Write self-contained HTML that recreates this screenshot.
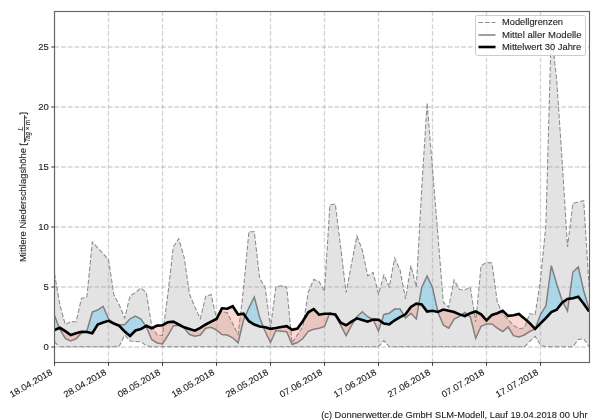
<!DOCTYPE html><html><head><meta charset="utf-8"><style>html,body{margin:0;padding:0;background:#fff;width:600px;height:420px;overflow:hidden}svg{display:block;will-change:transform}text{stroke:#222;stroke-width:0.1px}</style></head><body><svg width="600" height="420" viewBox="0 0 600 420">
<rect width="600" height="420" fill="#fff"/>
<defs><clipPath id="ax"><rect x="54.5" y="11.5" width="535.0" height="351.0"/></clipPath><clipPath id="above"><polygon points="52.50,0 54.50,330.00 59.90,327.80 65.30,331.20 70.70,335.00 76.10,333.30 81.50,331.70 86.90,332.00 92.30,333.30 97.70,324.50 103.10,322.50 108.50,320.80 113.90,323.50 119.30,325.80 124.70,331.50 130.10,336.00 135.50,330.50 140.90,329.00 146.30,325.80 151.70,328.30 157.10,325.60 162.50,325.20 167.90,322.20 173.30,321.60 178.70,324.50 184.10,327.30 189.50,329.00 194.90,330.70 200.30,327.80 205.70,324.50 211.10,321.70 216.50,319.00 221.90,308.30 227.30,308.70 232.70,306.20 238.10,314.50 243.50,313.70 248.90,321.20 254.30,324.50 259.70,326.50 265.10,327.20 270.50,328.80 275.90,328.00 281.30,327.00 286.70,326.20 292.10,329.80 297.50,328.50 302.90,321.00 308.30,312.30 313.70,309.20 319.10,314.70 324.50,313.70 329.90,313.70 335.30,314.50 340.70,322.80 346.10,325.30 351.50,321.70 356.90,318.30 362.30,320.00 367.70,321.70 373.10,319.50 378.50,319.70 383.90,323.60 389.30,324.30 394.70,320.30 400.10,317.10 405.50,314.30 410.90,306.90 416.30,303.70 421.70,304.40 427.10,311.50 432.50,310.80 437.90,312.00 443.30,309.60 448.70,310.80 454.10,312.00 459.50,314.40 464.90,316.00 470.30,313.20 475.70,311.50 481.10,314.40 486.50,320.30 491.90,314.90 497.30,313.20 502.70,310.80 508.10,315.90 513.50,315.30 518.90,314.00 524.30,318.40 529.70,323.20 535.10,328.80 540.50,323.30 545.90,318.00 551.30,312.10 556.70,309.80 562.10,302.60 567.50,299.00 572.90,298.30 578.30,296.70 583.70,303.80 589.10,311.50 591.10,0"/></clipPath><clipPath id="below"><polygon points="52.50,420 54.50,330.00 59.90,327.80 65.30,331.20 70.70,335.00 76.10,333.30 81.50,331.70 86.90,332.00 92.30,333.30 97.70,324.50 103.10,322.50 108.50,320.80 113.90,323.50 119.30,325.80 124.70,331.50 130.10,336.00 135.50,330.50 140.90,329.00 146.30,325.80 151.70,328.30 157.10,325.60 162.50,325.20 167.90,322.20 173.30,321.60 178.70,324.50 184.10,327.30 189.50,329.00 194.90,330.70 200.30,327.80 205.70,324.50 211.10,321.70 216.50,319.00 221.90,308.30 227.30,308.70 232.70,306.20 238.10,314.50 243.50,313.70 248.90,321.20 254.30,324.50 259.70,326.50 265.10,327.20 270.50,328.80 275.90,328.00 281.30,327.00 286.70,326.20 292.10,329.80 297.50,328.50 302.90,321.00 308.30,312.30 313.70,309.20 319.10,314.70 324.50,313.70 329.90,313.70 335.30,314.50 340.70,322.80 346.10,325.30 351.50,321.70 356.90,318.30 362.30,320.00 367.70,321.70 373.10,319.50 378.50,319.70 383.90,323.60 389.30,324.30 394.70,320.30 400.10,317.10 405.50,314.30 410.90,306.90 416.30,303.70 421.70,304.40 427.10,311.50 432.50,310.80 437.90,312.00 443.30,309.60 448.70,310.80 454.10,312.00 459.50,314.40 464.90,316.00 470.30,313.20 475.70,311.50 481.10,314.40 486.50,320.30 491.90,314.90 497.30,313.20 502.70,310.80 508.10,315.90 513.50,315.30 518.90,314.00 524.30,318.40 529.70,323.20 535.10,328.80 540.50,323.30 545.90,318.00 551.30,312.10 556.70,309.80 562.10,302.60 567.50,299.00 572.90,298.30 578.30,296.70 583.70,303.80 589.10,311.50 591.10,420"/></clipPath></defs>
<g clip-path="url(#ax)">
<polygon points="54.50,273.70 59.90,305.00 65.30,324.50 70.70,321.70 76.10,321.70 81.50,298.30 86.90,296.70 92.30,242.00 97.70,247.80 103.10,253.70 108.50,259.50 113.90,295.00 119.30,305.00 124.70,318.00 130.10,295.80 135.50,292.50 140.90,288.00 146.30,292.50 151.70,326.00 157.10,335.00 162.50,335.50 167.90,294.00 173.30,247.00 178.70,238.70 184.10,257.00 189.50,294.00 194.90,307.00 200.30,318.70 205.70,296.20 211.10,294.50 216.50,318.70 221.90,311.20 227.30,312.80 232.70,323.70 238.10,334.50 243.50,289.00 248.90,231.70 254.30,231.70 259.70,278.70 265.10,287.00 270.50,327.50 275.90,287.00 281.30,285.80 286.70,287.00 292.10,343.00 297.50,334.50 302.90,326.80 308.30,292.00 313.70,279.50 319.10,281.50 324.50,291.40 329.90,205.00 335.30,204.00 340.70,247.40 346.10,292.60 351.50,264.00 356.90,236.00 362.30,249.80 367.70,276.00 373.10,272.40 378.50,294.00 383.90,275.00 389.30,286.90 394.70,258.00 400.10,270.20 405.50,298.80 410.90,265.50 416.30,287.00 421.70,189.00 427.10,103.00 432.50,169.00 437.90,235.00 443.30,302.50 448.70,307.20 454.10,279.90 459.50,289.40 464.90,290.00 470.30,287.00 475.70,322.00 481.10,265.70 486.50,262.50 491.90,263.10 497.30,302.00 502.70,314.00 508.10,319.50 513.50,325.40 518.90,328.70 524.30,328.00 529.70,313.60 535.10,315.00 540.50,280.00 545.90,225.00 551.30,30.00 556.70,80.00 562.10,160.00 567.50,247.00 572.90,203.40 578.30,202.00 583.70,200.70 589.10,287.00 589.10,346.80 583.70,338.80 578.30,339.50 572.90,346.80 567.50,346.80 562.10,346.80 556.70,346.80 551.30,346.80 545.90,346.80 540.50,345.00 535.10,336.40 529.70,341.40 524.30,346.80 518.90,346.80 513.50,346.80 508.10,346.80 502.70,346.80 497.30,346.80 491.90,346.80 486.50,346.80 481.10,346.80 475.70,346.80 470.30,346.80 464.90,346.80 459.50,346.80 454.10,346.80 448.70,346.80 443.30,346.80 437.90,346.80 432.50,346.80 427.10,346.80 421.70,346.80 416.30,346.80 410.90,346.80 405.50,346.80 400.10,346.80 394.70,346.80 389.30,346.80 383.90,340.60 378.50,346.80 373.10,346.80 367.70,346.80 362.30,346.80 356.90,346.80 351.50,346.80 346.10,346.80 340.70,346.80 335.30,346.80 329.90,346.80 324.50,346.80 319.10,346.80 313.70,346.80 308.30,346.80 302.90,346.80 297.50,346.80 292.10,346.80 286.70,346.80 281.30,346.80 275.90,346.80 270.50,346.80 265.10,346.80 259.70,346.80 254.30,346.80 248.90,346.80 243.50,346.80 238.10,346.80 232.70,346.80 227.30,346.80 221.90,346.80 216.50,346.80 211.10,346.80 205.70,346.80 200.30,346.80 194.90,346.80 189.50,346.80 184.10,346.80 178.70,346.80 173.30,346.80 167.90,346.80 162.50,346.80 157.10,346.80 151.70,346.80 146.30,345.80 140.90,341.70 135.50,341.40 130.10,341.00 124.70,335.00 119.30,346.00 113.90,346.80 108.50,346.80 103.10,346.80 97.70,346.80 92.30,346.80 86.90,346.80 81.50,346.80 76.10,346.80 70.70,346.80 65.30,346.80 59.90,346.80 54.50,342.00" fill="#e3e3e3"/>
<line x1="54.50" y1="362.5" x2="54.50" y2="11.5" stroke="#a8a8a8" stroke-opacity="0.5" stroke-width="1.3" stroke-dasharray="4.6 2.07"/>
<line x1="108.50" y1="362.5" x2="108.50" y2="11.5" stroke="#a8a8a8" stroke-opacity="0.5" stroke-width="1.3" stroke-dasharray="4.6 2.07"/>
<line x1="162.50" y1="362.5" x2="162.50" y2="11.5" stroke="#a8a8a8" stroke-opacity="0.5" stroke-width="1.3" stroke-dasharray="4.6 2.07"/>
<line x1="216.50" y1="362.5" x2="216.50" y2="11.5" stroke="#a8a8a8" stroke-opacity="0.5" stroke-width="1.3" stroke-dasharray="4.6 2.07"/>
<line x1="270.50" y1="362.5" x2="270.50" y2="11.5" stroke="#a8a8a8" stroke-opacity="0.5" stroke-width="1.3" stroke-dasharray="4.6 2.07"/>
<line x1="324.50" y1="362.5" x2="324.50" y2="11.5" stroke="#a8a8a8" stroke-opacity="0.5" stroke-width="1.3" stroke-dasharray="4.6 2.07"/>
<line x1="378.50" y1="362.5" x2="378.50" y2="11.5" stroke="#a8a8a8" stroke-opacity="0.5" stroke-width="1.3" stroke-dasharray="4.6 2.07"/>
<line x1="432.50" y1="362.5" x2="432.50" y2="11.5" stroke="#a8a8a8" stroke-opacity="0.5" stroke-width="1.3" stroke-dasharray="4.6 2.07"/>
<line x1="486.50" y1="362.5" x2="486.50" y2="11.5" stroke="#a8a8a8" stroke-opacity="0.5" stroke-width="1.3" stroke-dasharray="4.6 2.07"/>
<line x1="540.50" y1="362.5" x2="540.50" y2="11.5" stroke="#a8a8a8" stroke-opacity="0.5" stroke-width="1.3" stroke-dasharray="4.6 2.07"/>
<line x1="54.5" y1="347.0" x2="589.5" y2="347.0" stroke="#a8a8a8" stroke-opacity="0.5" stroke-width="1.3" stroke-dasharray="4.6 2.07"/>
<line x1="54.5" y1="287.0" x2="589.5" y2="287.0" stroke="#a8a8a8" stroke-opacity="0.5" stroke-width="1.3" stroke-dasharray="4.6 2.07"/>
<line x1="54.5" y1="227.0" x2="589.5" y2="227.0" stroke="#a8a8a8" stroke-opacity="0.5" stroke-width="1.3" stroke-dasharray="4.6 2.07"/>
<line x1="54.5" y1="167.0" x2="589.5" y2="167.0" stroke="#a8a8a8" stroke-opacity="0.5" stroke-width="1.3" stroke-dasharray="4.6 2.07"/>
<line x1="54.5" y1="107.0" x2="589.5" y2="107.0" stroke="#a8a8a8" stroke-opacity="0.5" stroke-width="1.3" stroke-dasharray="4.6 2.07"/>
<line x1="54.5" y1="47.0" x2="589.5" y2="47.0" stroke="#a8a8a8" stroke-opacity="0.5" stroke-width="1.3" stroke-dasharray="4.6 2.07"/>
<polygon points="54.50,315.40 59.90,329.50 65.30,338.50 70.70,341.00 76.10,338.80 81.50,333.00 86.90,331.00 92.30,312.00 97.70,310.00 103.10,306.30 108.50,318.80 113.90,323.50 119.30,325.00 124.70,324.50 130.10,318.80 135.50,316.10 140.90,319.00 146.30,326.90 151.70,339.50 157.10,343.00 162.50,344.00 167.90,335.50 173.30,326.00 178.70,325.30 184.10,327.80 189.50,334.50 194.90,336.20 200.30,335.00 205.70,328.30 211.10,327.30 216.50,330.00 221.90,334.50 227.30,335.00 232.70,337.80 238.10,342.80 243.50,320.30 248.90,307.80 254.30,297.00 259.70,317.80 265.10,331.20 270.50,342.50 275.90,330.50 281.30,331.20 286.70,331.80 292.10,344.50 297.50,342.50 302.90,338.50 308.30,331.30 313.70,329.30 319.10,328.30 324.50,326.50 329.90,312.80 335.30,315.30 340.70,325.30 346.10,335.70 351.50,325.30 356.90,316.70 362.30,311.70 367.70,316.70 373.10,319.50 378.50,331.00 383.90,314.40 389.30,313.20 394.70,309.10 400.10,309.10 405.50,318.00 410.90,313.20 416.30,319.00 421.70,287.50 427.10,276.00 432.50,287.50 437.90,312.00 443.30,325.00 448.70,328.20 454.10,319.10 459.50,316.30 464.90,312.50 470.30,316.80 475.70,338.20 481.10,326.30 486.50,323.90 491.90,323.90 497.30,328.20 502.70,331.50 508.10,327.00 513.50,335.70 518.90,337.00 524.30,335.00 529.70,331.50 535.10,329.00 540.50,314.50 545.90,306.00 551.30,265.70 556.70,284.00 562.10,300.50 567.50,311.00 572.90,272.00 578.30,267.00 583.70,290.70 589.10,309.00 589.10,311.50 583.70,303.80 578.30,296.70 572.90,298.30 567.50,299.00 562.10,302.60 556.70,309.80 551.30,312.10 545.90,318.00 540.50,323.30 535.10,328.80 529.70,323.20 524.30,318.40 518.90,314.00 513.50,315.30 508.10,315.90 502.70,310.80 497.30,313.20 491.90,314.90 486.50,320.30 481.10,314.40 475.70,311.50 470.30,313.20 464.90,316.00 459.50,314.40 454.10,312.00 448.70,310.80 443.30,309.60 437.90,312.00 432.50,310.80 427.10,311.50 421.70,304.40 416.30,303.70 410.90,306.90 405.50,314.30 400.10,317.10 394.70,320.30 389.30,324.30 383.90,323.60 378.50,319.70 373.10,319.50 367.70,321.70 362.30,320.00 356.90,318.30 351.50,321.70 346.10,325.30 340.70,322.80 335.30,314.50 329.90,313.70 324.50,313.70 319.10,314.70 313.70,309.20 308.30,312.30 302.90,321.00 297.50,328.50 292.10,329.80 286.70,326.20 281.30,327.00 275.90,328.00 270.50,328.80 265.10,327.20 259.70,326.50 254.30,324.50 248.90,321.20 243.50,313.70 238.10,314.50 232.70,306.20 227.30,308.70 221.90,308.30 216.50,319.00 211.10,321.70 205.70,324.50 200.30,327.80 194.90,330.70 189.50,329.00 184.10,327.30 178.70,324.50 173.30,321.60 167.90,322.20 162.50,325.20 157.10,325.60 151.70,328.30 146.30,325.80 140.90,329.00 135.50,330.50 130.10,336.00 124.70,331.50 119.30,325.80 113.90,323.50 108.50,320.80 103.10,322.50 97.70,324.50 92.30,333.30 86.90,332.00 81.50,331.70 76.10,333.30 70.70,335.00 65.30,331.20 59.90,327.80 54.50,330.00" fill="rgb(135,206,235)" fill-opacity="0.6" fill-rule="evenodd" clip-path="url(#above)"/>
<polygon points="54.50,315.40 59.90,329.50 65.30,338.50 70.70,341.00 76.10,338.80 81.50,333.00 86.90,331.00 92.30,312.00 97.70,310.00 103.10,306.30 108.50,318.80 113.90,323.50 119.30,325.00 124.70,324.50 130.10,318.80 135.50,316.10 140.90,319.00 146.30,326.90 151.70,339.50 157.10,343.00 162.50,344.00 167.90,335.50 173.30,326.00 178.70,325.30 184.10,327.80 189.50,334.50 194.90,336.20 200.30,335.00 205.70,328.30 211.10,327.30 216.50,330.00 221.90,334.50 227.30,335.00 232.70,337.80 238.10,342.80 243.50,320.30 248.90,307.80 254.30,297.00 259.70,317.80 265.10,331.20 270.50,342.50 275.90,330.50 281.30,331.20 286.70,331.80 292.10,344.50 297.50,342.50 302.90,338.50 308.30,331.30 313.70,329.30 319.10,328.30 324.50,326.50 329.90,312.80 335.30,315.30 340.70,325.30 346.10,335.70 351.50,325.30 356.90,316.70 362.30,311.70 367.70,316.70 373.10,319.50 378.50,331.00 383.90,314.40 389.30,313.20 394.70,309.10 400.10,309.10 405.50,318.00 410.90,313.20 416.30,319.00 421.70,287.50 427.10,276.00 432.50,287.50 437.90,312.00 443.30,325.00 448.70,328.20 454.10,319.10 459.50,316.30 464.90,312.50 470.30,316.80 475.70,338.20 481.10,326.30 486.50,323.90 491.90,323.90 497.30,328.20 502.70,331.50 508.10,327.00 513.50,335.70 518.90,337.00 524.30,335.00 529.70,331.50 535.10,329.00 540.50,314.50 545.90,306.00 551.30,265.70 556.70,284.00 562.10,300.50 567.50,311.00 572.90,272.00 578.30,267.00 583.70,290.70 589.10,309.00 589.10,311.50 583.70,303.80 578.30,296.70 572.90,298.30 567.50,299.00 562.10,302.60 556.70,309.80 551.30,312.10 545.90,318.00 540.50,323.30 535.10,328.80 529.70,323.20 524.30,318.40 518.90,314.00 513.50,315.30 508.10,315.90 502.70,310.80 497.30,313.20 491.90,314.90 486.50,320.30 481.10,314.40 475.70,311.50 470.30,313.20 464.90,316.00 459.50,314.40 454.10,312.00 448.70,310.80 443.30,309.60 437.90,312.00 432.50,310.80 427.10,311.50 421.70,304.40 416.30,303.70 410.90,306.90 405.50,314.30 400.10,317.10 394.70,320.30 389.30,324.30 383.90,323.60 378.50,319.70 373.10,319.50 367.70,321.70 362.30,320.00 356.90,318.30 351.50,321.70 346.10,325.30 340.70,322.80 335.30,314.50 329.90,313.70 324.50,313.70 319.10,314.70 313.70,309.20 308.30,312.30 302.90,321.00 297.50,328.50 292.10,329.80 286.70,326.20 281.30,327.00 275.90,328.00 270.50,328.80 265.10,327.20 259.70,326.50 254.30,324.50 248.90,321.20 243.50,313.70 238.10,314.50 232.70,306.20 227.30,308.70 221.90,308.30 216.50,319.00 211.10,321.70 205.70,324.50 200.30,327.80 194.90,330.70 189.50,329.00 184.10,327.30 178.70,324.50 173.30,321.60 167.90,322.20 162.50,325.20 157.10,325.60 151.70,328.30 146.30,325.80 140.90,329.00 135.50,330.50 130.10,336.00 124.70,331.50 119.30,325.80 113.90,323.50 108.50,320.80 103.10,322.50 97.70,324.50 92.30,333.30 86.90,332.00 81.50,331.70 76.10,333.30 70.70,335.00 65.30,331.20 59.90,327.80 54.50,330.00" fill="rgb(250,128,114)" fill-opacity="0.3" fill-rule="evenodd" clip-path="url(#below)"/>
<polyline points="54.50,273.70 59.90,305.00 65.30,324.50 70.70,321.70 76.10,321.70 81.50,298.30 86.90,296.70 92.30,242.00 97.70,247.80 103.10,253.70 108.50,259.50 113.90,295.00 119.30,305.00 124.70,318.00 130.10,295.80 135.50,292.50 140.90,288.00 146.30,292.50 151.70,326.00 157.10,335.00 162.50,335.50 167.90,294.00 173.30,247.00 178.70,238.70 184.10,257.00 189.50,294.00 194.90,307.00 200.30,318.70 205.70,296.20 211.10,294.50 216.50,318.70 221.90,311.20 227.30,312.80 232.70,323.70 238.10,334.50 243.50,289.00 248.90,231.70 254.30,231.70 259.70,278.70 265.10,287.00 270.50,327.50 275.90,287.00 281.30,285.80 286.70,287.00 292.10,343.00 297.50,334.50 302.90,326.80 308.30,292.00 313.70,279.50 319.10,281.50 324.50,291.40 329.90,205.00 335.30,204.00 340.70,247.40 346.10,292.60 351.50,264.00 356.90,236.00 362.30,249.80 367.70,276.00 373.10,272.40 378.50,294.00 383.90,275.00 389.30,286.90 394.70,258.00 400.10,270.20 405.50,298.80 410.90,265.50 416.30,287.00 421.70,189.00 427.10,103.00 432.50,169.00 437.90,235.00 443.30,302.50 448.70,307.20 454.10,279.90 459.50,289.40 464.90,290.00 470.30,287.00 475.70,322.00 481.10,265.70 486.50,262.50 491.90,263.10 497.30,302.00 502.70,314.00 508.10,319.50 513.50,325.40 518.90,328.70 524.30,328.00 529.70,313.60 535.10,315.00 540.50,280.00 545.90,225.00 551.30,30.00 556.70,80.00 562.10,160.00 567.50,247.00 572.90,203.40 578.30,202.00 583.70,200.70 589.10,287.00" fill="none" stroke="#8a8a8a" stroke-width="1.05" stroke-dasharray="4.6 2.0"/>
<polyline points="54.50,342.00 59.90,346.80 65.30,346.80 70.70,346.80 76.10,346.80 81.50,346.80 86.90,346.80 92.30,346.80 97.70,346.80 103.10,346.80 108.50,346.80 113.90,346.80 119.30,346.00 124.70,335.00 130.10,341.00 135.50,341.40 140.90,341.70 146.30,345.80 151.70,346.80 157.10,346.80 162.50,346.80 167.90,346.80 173.30,346.80 178.70,346.80 184.10,346.80 189.50,346.80 194.90,346.80 200.30,346.80 205.70,346.80 211.10,346.80 216.50,346.80 221.90,346.80 227.30,346.80 232.70,346.80 238.10,346.80 243.50,346.80 248.90,346.80 254.30,346.80 259.70,346.80 265.10,346.80 270.50,346.80 275.90,346.80 281.30,346.80 286.70,346.80 292.10,346.80 297.50,346.80 302.90,346.80 308.30,346.80 313.70,346.80 319.10,346.80 324.50,346.80 329.90,346.80 335.30,346.80 340.70,346.80 346.10,346.80 351.50,346.80 356.90,346.80 362.30,346.80 367.70,346.80 373.10,346.80 378.50,346.80 383.90,340.60 389.30,346.80 394.70,346.80 400.10,346.80 405.50,346.80 410.90,346.80 416.30,346.80 421.70,346.80 427.10,346.80 432.50,346.80 437.90,346.80 443.30,346.80 448.70,346.80 454.10,346.80 459.50,346.80 464.90,346.80 470.30,346.80 475.70,346.80 481.10,346.80 486.50,346.80 491.90,346.80 497.30,346.80 502.70,346.80 508.10,346.80 513.50,346.80 518.90,346.80 524.30,346.80 529.70,341.40 535.10,336.40 540.50,345.00 545.90,346.80 551.30,346.80 556.70,346.80 562.10,346.80 567.50,346.80 572.90,346.80 578.30,339.50 583.70,338.80 589.10,346.80" fill="none" stroke="#8a8a8a" stroke-width="1.05" stroke-dasharray="4.6 2.0"/>
<polyline points="54.50,315.40 59.90,329.50 65.30,338.50 70.70,341.00 76.10,338.80 81.50,333.00 86.90,331.00 92.30,312.00 97.70,310.00 103.10,306.30 108.50,318.80 113.90,323.50 119.30,325.00 124.70,324.50 130.10,318.80 135.50,316.10 140.90,319.00 146.30,326.90 151.70,339.50 157.10,343.00 162.50,344.00 167.90,335.50 173.30,326.00 178.70,325.30 184.10,327.80 189.50,334.50 194.90,336.20 200.30,335.00 205.70,328.30 211.10,327.30 216.50,330.00 221.90,334.50 227.30,335.00 232.70,337.80 238.10,342.80 243.50,320.30 248.90,307.80 254.30,297.00 259.70,317.80 265.10,331.20 270.50,342.50 275.90,330.50 281.30,331.20 286.70,331.80 292.10,344.50 297.50,342.50 302.90,338.50 308.30,331.30 313.70,329.30 319.10,328.30 324.50,326.50 329.90,312.80 335.30,315.30 340.70,325.30 346.10,335.70 351.50,325.30 356.90,316.70 362.30,311.70 367.70,316.70 373.10,319.50 378.50,331.00 383.90,314.40 389.30,313.20 394.70,309.10 400.10,309.10 405.50,318.00 410.90,313.20 416.30,319.00 421.70,287.50 427.10,276.00 432.50,287.50 437.90,312.00 443.30,325.00 448.70,328.20 454.10,319.10 459.50,316.30 464.90,312.50 470.30,316.80 475.70,338.20 481.10,326.30 486.50,323.90 491.90,323.90 497.30,328.20 502.70,331.50 508.10,327.00 513.50,335.70 518.90,337.00 524.30,335.00 529.70,331.50 535.10,329.00 540.50,314.50 545.90,306.00 551.30,265.70 556.70,284.00 562.10,300.50 567.50,311.00 572.90,272.00 578.30,267.00 583.70,290.70 589.10,309.00" fill="none" stroke="#808080" stroke-width="1.5" stroke-linejoin="miter"/>
<polyline points="54.50,330.00 59.90,327.80 65.30,331.20 70.70,335.00 76.10,333.30 81.50,331.70 86.90,332.00 92.30,333.30 97.70,324.50 103.10,322.50 108.50,320.80 113.90,323.50 119.30,325.80 124.70,331.50 130.10,336.00 135.50,330.50 140.90,329.00 146.30,325.80 151.70,328.30 157.10,325.60 162.50,325.20 167.90,322.20 173.30,321.60 178.70,324.50 184.10,327.30 189.50,329.00 194.90,330.70 200.30,327.80 205.70,324.50 211.10,321.70 216.50,319.00 221.90,308.30 227.30,308.70 232.70,306.20 238.10,314.50 243.50,313.70 248.90,321.20 254.30,324.50 259.70,326.50 265.10,327.20 270.50,328.80 275.90,328.00 281.30,327.00 286.70,326.20 292.10,329.80 297.50,328.50 302.90,321.00 308.30,312.30 313.70,309.20 319.10,314.70 324.50,313.70 329.90,313.70 335.30,314.50 340.70,322.80 346.10,325.30 351.50,321.70 356.90,318.30 362.30,320.00 367.70,321.70 373.10,319.50 378.50,319.70 383.90,323.60 389.30,324.30 394.70,320.30 400.10,317.10 405.50,314.30 410.90,306.90 416.30,303.70 421.70,304.40 427.10,311.50 432.50,310.80 437.90,312.00 443.30,309.60 448.70,310.80 454.10,312.00 459.50,314.40 464.90,316.00 470.30,313.20 475.70,311.50 481.10,314.40 486.50,320.30 491.90,314.90 497.30,313.20 502.70,310.80 508.10,315.90 513.50,315.30 518.90,314.00 524.30,318.40 529.70,323.20 535.10,328.80 540.50,323.30 545.90,318.00 551.30,312.10 556.70,309.80 562.10,302.60 567.50,299.00 572.90,298.30 578.30,296.70 583.70,303.80 589.10,311.50" fill="none" stroke="#000" stroke-width="2.6" stroke-linejoin="miter"/>
</g>
<rect x="54.5" y="11.5" width="535.0" height="351.0" fill="none" stroke="#666" stroke-width="1.15"/>
<line x1="51.2" y1="347.0" x2="54.5" y2="347.0" stroke="#000" stroke-width="0.75"/>
<text x="48.9" y="350.10" font-family="Liberation Sans, sans-serif" font-size="8.9" text-anchor="end" textLength="5.30" lengthAdjust="spacingAndGlyphs" fill="#222">0</text>
<line x1="51.2" y1="287.0" x2="54.5" y2="287.0" stroke="#000" stroke-width="0.75"/>
<text x="48.9" y="290.10" font-family="Liberation Sans, sans-serif" font-size="8.9" text-anchor="end" textLength="5.30" lengthAdjust="spacingAndGlyphs" fill="#222">5</text>
<line x1="51.2" y1="227.0" x2="54.5" y2="227.0" stroke="#000" stroke-width="0.75"/>
<text x="48.9" y="230.10" font-family="Liberation Sans, sans-serif" font-size="8.9" text-anchor="end" textLength="10.60" lengthAdjust="spacingAndGlyphs" fill="#222">10</text>
<line x1="51.2" y1="167.0" x2="54.5" y2="167.0" stroke="#000" stroke-width="0.75"/>
<text x="48.9" y="170.10" font-family="Liberation Sans, sans-serif" font-size="8.9" text-anchor="end" textLength="10.60" lengthAdjust="spacingAndGlyphs" fill="#222">15</text>
<line x1="51.2" y1="107.0" x2="54.5" y2="107.0" stroke="#000" stroke-width="0.75"/>
<text x="48.9" y="110.10" font-family="Liberation Sans, sans-serif" font-size="8.9" text-anchor="end" textLength="10.60" lengthAdjust="spacingAndGlyphs" fill="#222">20</text>
<line x1="51.2" y1="47.0" x2="54.5" y2="47.0" stroke="#000" stroke-width="0.75"/>
<text x="48.9" y="50.10" font-family="Liberation Sans, sans-serif" font-size="8.9" text-anchor="end" textLength="10.60" lengthAdjust="spacingAndGlyphs" fill="#222">25</text>
<line x1="54.50" y1="362.5" x2="54.50" y2="365.8" stroke="#000" stroke-width="0.75"/>
<text transform="translate(53.00,374.0) rotate(-30)" x="0" y="0" font-family="Liberation Sans, sans-serif" font-size="8.9" text-anchor="end" textLength="47.69" lengthAdjust="spacingAndGlyphs" fill="#222">18.04.2018</text>
<line x1="108.50" y1="362.5" x2="108.50" y2="365.8" stroke="#000" stroke-width="0.75"/>
<text transform="translate(107.00,374.0) rotate(-30)" x="0" y="0" font-family="Liberation Sans, sans-serif" font-size="8.9" text-anchor="end" textLength="47.69" lengthAdjust="spacingAndGlyphs" fill="#222">28.04.2018</text>
<line x1="162.50" y1="362.5" x2="162.50" y2="365.8" stroke="#000" stroke-width="0.75"/>
<text transform="translate(161.00,374.0) rotate(-30)" x="0" y="0" font-family="Liberation Sans, sans-serif" font-size="8.9" text-anchor="end" textLength="47.69" lengthAdjust="spacingAndGlyphs" fill="#222">08.05.2018</text>
<line x1="216.50" y1="362.5" x2="216.50" y2="365.8" stroke="#000" stroke-width="0.75"/>
<text transform="translate(215.00,374.0) rotate(-30)" x="0" y="0" font-family="Liberation Sans, sans-serif" font-size="8.9" text-anchor="end" textLength="47.69" lengthAdjust="spacingAndGlyphs" fill="#222">18.05.2018</text>
<line x1="270.50" y1="362.5" x2="270.50" y2="365.8" stroke="#000" stroke-width="0.75"/>
<text transform="translate(269.00,374.0) rotate(-30)" x="0" y="0" font-family="Liberation Sans, sans-serif" font-size="8.9" text-anchor="end" textLength="47.69" lengthAdjust="spacingAndGlyphs" fill="#222">28.05.2018</text>
<line x1="324.50" y1="362.5" x2="324.50" y2="365.8" stroke="#000" stroke-width="0.75"/>
<text transform="translate(323.00,374.0) rotate(-30)" x="0" y="0" font-family="Liberation Sans, sans-serif" font-size="8.9" text-anchor="end" textLength="47.69" lengthAdjust="spacingAndGlyphs" fill="#222">07.06.2018</text>
<line x1="378.50" y1="362.5" x2="378.50" y2="365.8" stroke="#000" stroke-width="0.75"/>
<text transform="translate(377.00,374.0) rotate(-30)" x="0" y="0" font-family="Liberation Sans, sans-serif" font-size="8.9" text-anchor="end" textLength="47.69" lengthAdjust="spacingAndGlyphs" fill="#222">17.06.2018</text>
<line x1="432.50" y1="362.5" x2="432.50" y2="365.8" stroke="#000" stroke-width="0.75"/>
<text transform="translate(431.00,374.0) rotate(-30)" x="0" y="0" font-family="Liberation Sans, sans-serif" font-size="8.9" text-anchor="end" textLength="47.69" lengthAdjust="spacingAndGlyphs" fill="#222">27.06.2018</text>
<line x1="486.50" y1="362.5" x2="486.50" y2="365.8" stroke="#000" stroke-width="0.75"/>
<text transform="translate(485.00,374.0) rotate(-30)" x="0" y="0" font-family="Liberation Sans, sans-serif" font-size="8.9" text-anchor="end" textLength="47.69" lengthAdjust="spacingAndGlyphs" fill="#222">07.07.2018</text>
<line x1="540.50" y1="362.5" x2="540.50" y2="365.8" stroke="#000" stroke-width="0.75"/>
<text transform="translate(539.00,374.0) rotate(-30)" x="0" y="0" font-family="Liberation Sans, sans-serif" font-size="8.9" text-anchor="end" textLength="47.69" lengthAdjust="spacingAndGlyphs" fill="#222">17.07.2018</text>
<rect x="475.5" y="15.5" width="110" height="40" rx="2" ry="2" fill="#fff" fill-opacity="0.8" stroke="#cccccc" stroke-width="1"/>
<line x1="478.5" y1="22.4" x2="495.5" y2="22.4" stroke="#8a8a8a" stroke-width="1.05" stroke-dasharray="4.6 2.0"/>
<text x="502" y="25.00" font-family="Liberation Sans, sans-serif" font-size="8.9" textLength="61.04" lengthAdjust="spacingAndGlyphs" fill="#222">Modellgrenzen</text>
<line x1="478.5" y1="35" x2="495.5" y2="35" stroke="#808080" stroke-width="1.5"/>
<text x="502" y="37.60" font-family="Liberation Sans, sans-serif" font-size="8.9" textLength="79.50" lengthAdjust="spacingAndGlyphs" fill="#222">Mittel aller Modelle</text>
<line x1="478.5" y1="47" x2="495.5" y2="47" stroke="#000" stroke-width="2.6"/>
<text x="502" y="49.60" font-family="Liberation Sans, sans-serif" font-size="8.9" textLength="79.20" lengthAdjust="spacingAndGlyphs" fill="#222">Mittelwert 30 Jahre</text>
<text x="321.2" y="418" font-family="Liberation Sans, sans-serif" font-size="8.9" textLength="266.3" lengthAdjust="spacingAndGlyphs" fill="#222">(c) Donnerwetter.de GmbH SLM-Modell, Lauf 19.04.2018 00 Uhr</text>
<g transform="translate(26.4,262) rotate(-90)"><text x="0" y="0" font-family="Liberation Sans, sans-serif" font-size="8.9" textLength="114.02" lengthAdjust="spacingAndGlyphs" fill="#222">Mittlere Niederschlagshöhe</text></g>
<g transform="translate(26.4,262) rotate(-90)" fill="#222" stroke="none"><path d="M119,-6.5 L117.3,-6.5 L117.3,1.2 L119,1.2" fill="none" stroke="#222" stroke-width="1"/><path d="M147.3,-6.5 L149,-6.5 L149,1.2 L147.3,1.2" fill="none" stroke="#222" stroke-width="1"/><line x1="119.4" y1="-1.8" x2="146.9" y2="-1.8" stroke="#222" stroke-width="0.9"/><text x="131.2" y="-3.4" font-family="Liberation Sans, sans-serif" font-size="7.5" font-style="italic">L</text><text x="120" y="3.8" font-family="Liberation Sans, sans-serif" font-size="7" font-style="italic" textLength="22" lengthAdjust="spacingAndGlyphs">Tag × m</text><text x="143.2" y="0.4" font-family="Liberation Sans, sans-serif" font-size="4.2">2</text></g>
</svg></body></html>
